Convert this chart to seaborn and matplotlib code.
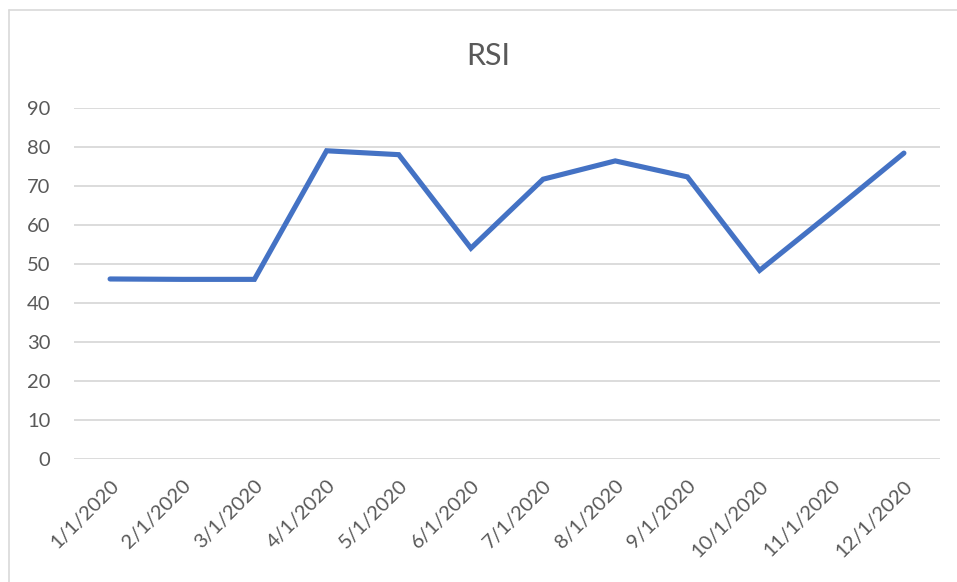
import pandas as pd
import seaborn as sns
import matplotlib.pyplot as plt
from matplotlib.lines import Line2D

dates = ["1/1/2020", "2/1/2020", "3/1/2020", "4/1/2020", "5/1/2020", "6/1/2020",
         "7/1/2020", "8/1/2020", "9/1/2020", "10/1/2020", "11/1/2020", "12/1/2020"]
rsi = [46.2, 46.1, 46.1, 79.1, 78.1, 54.1, 71.8, 76.5, 72.4, 48.4, 63.3, 78.5]
y_ticks = [0, 10, 20, 30, 40, 50, 60, 70, 80, 90]

text_color = "#595959"
grid_color = "#D9D9D9"


def make_plot(filename):
    sns.set_theme(style="white")
    plt.rcParams["font.family"] = ["Lato", "DejaVu Sans"]
    data = pd.DataFrame({"date": dates, "rsi": rsi, "pos": range(len(dates))})

    fig = plt.figure(figsize=(9.57, 5.82), dpi=100)
    ax = fig.add_axes([74 / 957, 1 - 459 / 582, (940 - 74) / 957, (459 - 108.3) / 582])
    sns.lineplot(data=data, x="pos", y="rsi", ax=ax, color="#4472C4",
                 linewidth=3.7, solid_joinstyle="miter", solid_capstyle="round")

    ax.set_xlim(-0.5, len(dates) - 0.5)
    ax.set_ylim(0, 90)
    ax.set_yticks(y_ticks)
    ax.set_xticks(range(len(dates)))
    ax.set_xticklabels(dates, rotation=45, ha="right", va="top",
                       rotation_mode="anchor", fontsize=14.5, color=text_color)
    ax.tick_params(axis="y", labelsize=14.5, labelcolor=text_color, length=0, pad=17)
    ax.tick_params(axis="x", length=0, pad=13)
    ax.yaxis.grid(True, color=grid_color, linewidth=1.3)
    ax.set_axisbelow(True)
    for side in ["top", "right", "left", "bottom"]:
        ax.spines[side].set_visible(False)
    ax.set_xlabel("")
    ax.set_ylabel("")

    fig.text(488 / 957, 1 - 56 / 582, "RSI", ha="center", va="center",
             fontsize=22, color=text_color)

    # chart area border (only top and left are inside the image)
    fig.add_artist(Line2D([9 / 957, 1], [1 - 10 / 582, 1 - 10 / 582],
                          transform=fig.transFigure, color=grid_color, linewidth=1.2))
    fig.add_artist(Line2D([9 / 957, 9 / 957], [0, 1 - 10 / 582],
                          transform=fig.transFigure, color=grid_color, linewidth=1.2))

    fig.savefig(filename, dpi=100, facecolor="white")


make_plot("out.png")
